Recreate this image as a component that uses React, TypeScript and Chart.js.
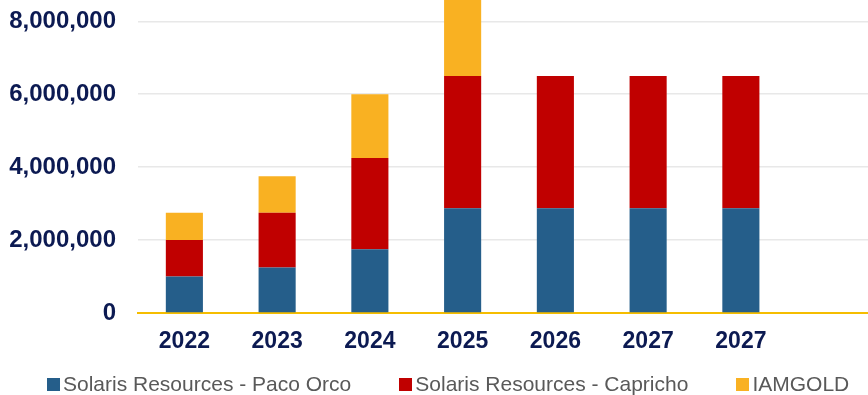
import React, { useEffect, useRef } from "react";
import { Chart, registerables } from "chart.js";

Chart.register(...registerables);

const categories = ["2022", "2023", "2024", "2025", "2026", "2027", "2027", ""];
const pacoOrco = [1000000, 1250000, 1750000, 2875000, 2875000, 2875000, 2875000, null];
const capricho = [1000000, 1500000, 2500000, 3625000, 3625000, 3625000, 3625000, null];
const iamgold = [750000, 1000000, 1750000, 2500000, null, null, null, null];
const seriesNames = ["Solaris Resources - Paco Orco", "Solaris Resources - Capricho", "IAMGOLD"];
const seriesColors = ["#255e8a", "#c00000", "#f9b122"];

const NAVY = "#0c1a52";

export default function App() {
  const ref = useRef<HTMLCanvasElement | null>(null);

  useEffect(() => {
    document.body.style.margin = "0";
    const ctx = ref.current!;
    const chart = new Chart(ctx, {
      type: "bar",
      data: {
        labels: categories,
        datasets: [pacoOrco, capricho, iamgold].map((d, i) => ({
          label: seriesNames[i],
          data: d as any,
          backgroundColor: seriesColors[i],
          borderWidth: 0,
          categoryPercentage: 1,
          barPercentage: 0.4,
        })),
      },
      options: {
        animation: false,
        responsive: false,
        maintainAspectRatio: false,
        layout: { padding: { top: 8, bottom: 0, left: 0, right: 10 } },
        plugins: { legend: { display: false }, tooltip: { enabled: false } },
        scales: {
          x: {
            stacked: true,
            grid: { display: false, drawTicks: false },
            border: { display: true, color: "#f5bd00", width: 2 },
            ticks: {
              color: NAVY,
              font: { family: "Liberation Sans, Arial, sans-serif", size: 23, weight: "bold" },
              padding: 15,
              maxRotation: 0,
              autoSkip: false,
            },
            afterFit: (s: any) => {
              s.height = 82;
            },
          },
          y: {
            stacked: true,
            min: 0,
            max: 10000000,
            grid: {
              drawTicks: false,
              color: (c: any) => (c.tick && c.tick.value === 0 ? "rgba(0,0,0,0)" : "#e8e8e8"),
              lineWidth: 1.5,
            },
            border: { display: false },
            ticks: {
              stepSize: 2000000,
              color: NAVY,
              padding: 22,
              font: { family: "Liberation Sans, Arial, sans-serif", size: 24, weight: "bold" },
              callback: (v: any) => Number(v).toLocaleString("en-US"),
            },
            afterFit: (s: any) => {
              s.width = 138;
            },
          },
        },
      },
    });
    return () => chart.destroy();
  }, []);

  return (
    <div style={{ position: "fixed", left: 0, top: 0, width: 868, height: 395, overflow: "hidden" }}>
      <canvas
        ref={ref}
        width={890}
        height={483}
        style={{ position: "absolute", left: 0, top: -88, width: 890, height: 483 }}
      />
      <div
        style={{
          position: "absolute",
          left: 47,
          top: 371,
          display: "flex",
          gap: 48,
          whiteSpace: "nowrap",
          fontFamily: "Liberation Sans, Arial, sans-serif",
          fontSize: 21,
          color: "#595959",
          lineHeight: "26px",
        }}
      >
        {seriesNames.map((n, i) => (
          <div key={i} style={{ display: "flex", alignItems: "center" }}>
            <span
              style={{ display: "inline-block", width: 13, height: 13, background: seriesColors[i], marginRight: 3 }}
            />
            <span>{n}</span>
          </div>
        ))}
      </div>
    </div>
  );
}
